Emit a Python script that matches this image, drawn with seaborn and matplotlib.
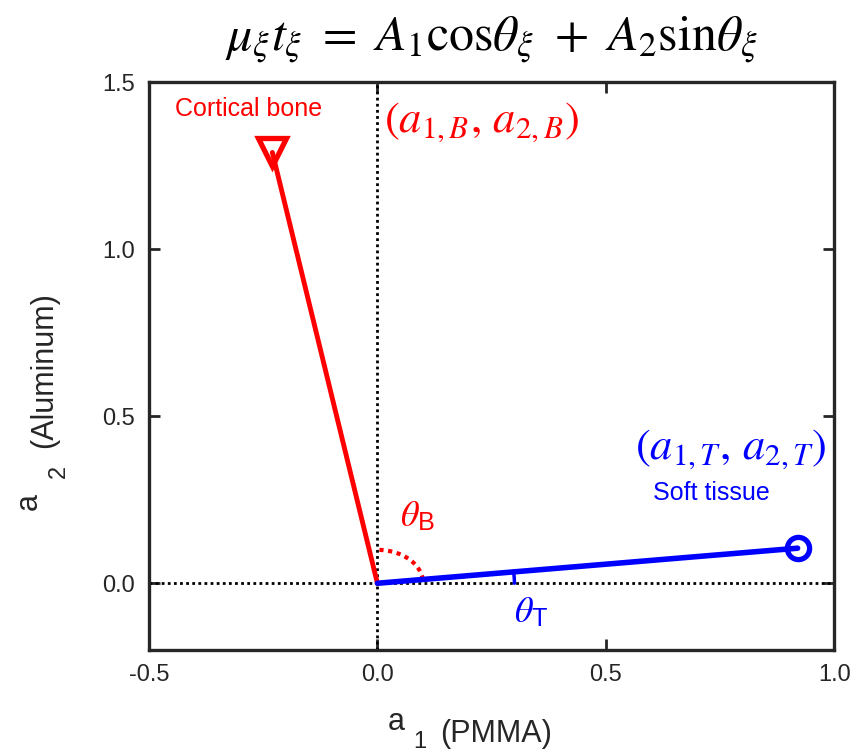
import numpy as np
import pandas as pd
import matplotlib
matplotlib.use("Agg")
import matplotlib.pyplot as plt
import seaborn as sns

# basis-material coordinates
materials = ["Cortical bone", "Soft tissue"]
a1_values = [-0.23, 0.92]   # PMMA
a2_values = [1.29, 0.105]   # Aluminum
colors = ["#ff0000", "#0000ff"]
markers = ["v", "o"]

x_ticks = [-0.5, 0.0, 0.5, 1.0]
y_ticks = [0.0, 0.5, 1.0, 1.5]

sns.set_theme(style="ticks")
plt.rcParams["font.family"] = ["Liberation Sans", "DejaVu Sans"]
plt.rcParams["mathtext.fontset"] = "stix"

fig = plt.figure(figsize=(8.58, 7.55), dpi=100)
ax = fig.add_axes([0.1737, 0.139, 0.7985, 0.752])

# dotted zero lines
ax.axhline(0, color="black", ls=(0, (1, 1.2)), lw=2, zorder=1)
ax.axvline(0, color="black", ls=(0, (1, 1.2)), lw=2, zorder=1)

# vectors from the origin to each material
for name, a1, a2, c, m in zip(materials, a1_values, a2_values, colors, markers):
    vec = pd.DataFrame({"a1": [0.0, a1], "a2": [0.0, a2]})
    ms = 20 if m == "v" else 16
    sns.lineplot(data=vec, x="a1", y="a2", sort=False, estimator=None, ax=ax,
                 color=c, lw=4.0 if m == "o" else 3.5, marker=m, markevery=[1],
                 ms=ms, mfc="none", mec=c, mew=3.8, zorder=3)

# angle arcs
theta_t = np.arctan2(a2_values[1], a1_values[1])
ang = np.linspace(theta_t, np.pi / 2, 40)
ax.plot(0.1 * np.cos(ang), 0.1 * np.sin(ang), color=colors[0], lw=3,
        ls=(0, (1, 1.1)), zorder=2)
ang = np.linspace(0, theta_t, 10)
ax.plot(0.3 * np.cos(ang), 0.3 * np.sin(ang), color=colors[1], lw=2.5, zorder=2)

ax.set_xlim(-0.5, 1.0)
ax.set_ylim(-0.2, 1.5)
ax.set_xticks(x_ticks)
ax.set_yticks(y_ticks)
ax.set_xticklabels([f"{t:.1f}" for t in x_ticks])
ax.set_yticklabels([f"{t:.1f}" for t in y_ticks])
ax.set_xlabel("")
ax.set_ylabel("")
ax.tick_params(direction="in", length=8, width=2, labelsize=17, colors="#262626",
               top=True, right=True, pad=10)
for s in ax.spines.values():
    s.set_linewidth(2.4)
    s.set_color("#262626")

# axis labels, subscripts dropped low like the original
lab = dict(transform=ax.transAxes, fontsize=22, color="#262626", clip_on=False)
ax.text(0.349, -0.141, "a", ha="left", va="baseline", **lab)
ax.text(0.385, -0.181, "1", ha="left", va="bottom", **{**lab, "fontsize": 17})
ax.text(0.4248, -0.162, "(PMMA)", ha="left", va="baseline", **lab)
rot = dict(rotation=90, rotation_mode="anchor", ha="left", va="baseline")
ax.text(-0.1635, 0.2465, "a", **rot, **lab)
ax.text(-0.1226, 0.303, "2", **rot, **{**lab, "fontsize": 17})
ax.text(-0.1416, 0.3556, "(Aluminum)", **rot, **lab)

# labels
ax.text(-0.283, 1.42, materials[0], color=colors[0], fontsize=18, ha="center", va="center")
ax.text(0.732, 0.27, materials[1], color=colors[1], fontsize=18, ha="center", va="center")
ax.text(0.015, 1.38, r"$\left(a_{1,B},\,a_{2,B}\right)$", color=colors[0], fontsize=32,
        ha="left", va="center")
ax.text(0.565, 0.40, r"$\left(a_{1,T},\,a_{2,T}\right)$", color=colors[1], fontsize=32,
        ha="left", va="center")
ax.text(0.05, 0.20, r"$\theta_{\mathregular{B}}$", color=colors[0], fontsize=26,
        ha="left", va="center")
ax.text(0.30, -0.087, r"$\theta_{\mathregular{T}}$", color=colors[1], fontsize=26,
        ha="left", va="center")

ax.text(0.5, 1.075,
        r"$\mu_{\xi}t_{\xi}\ =\ A_1\mathrm{cos}\theta_{\xi}\ +\ A_2\mathrm{sin}\theta_{\xi}$",
        transform=ax.transAxes, fontsize=36, ha="center", va="center", color="black")

fig.savefig("out.png", dpi=100)
